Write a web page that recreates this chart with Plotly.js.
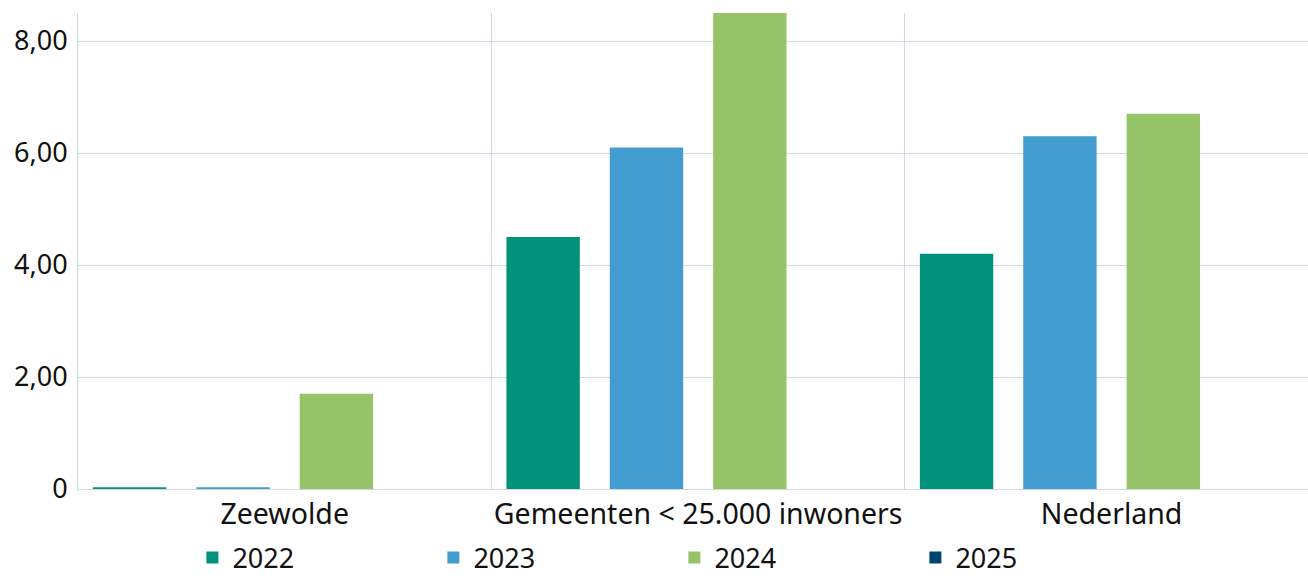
<!DOCTYPE html>
<html>
<head>
<meta charset="utf-8">
<script src="https://cdn.plot.ly/plotly-3.0.1.min.js"></script>
<style>html,body{margin:0;padding:0;background:#fff;}#chart{width:1308px;height:578px;}</style>
</head>
<body>
<div id="chart"></div>
<script>
const categories = ["Zeewolde", "Gemeenten < 25.000 inwoners", "Nederland"];
const seriesNames = ["2022", "2023", "2024", "2025"];
const values2022 = [0.03, 4.5, 4.2];
const values2023 = [0.03, 6.1, 6.3];
const values2024 = [1.7, 8.5, 6.7];
const values2025 = [null, null, null];
const seriesColors = ["#00927a", "#439dd0", "#95c367", "#00446f"];
const yTickVals = [0, 2, 4, 6, 8];
const yTickText = ["0", "2,00", "4,00", "6,00", "8,00"];

const allValues = [values2022, values2023, values2024, values2025];
const traces = seriesNames.map((name, i) => ({
  type: "bar",
  name: name,
  x: categories,
  y: allValues[i],
  marker: { color: seriesColors[i] },
  hoverinfo: "none"
}));

const gridColor = "#cfd8e3";
const fontFamily = "'Noto Sans', 'Open Sans', sans-serif";
const fontSize = 27;

const layout = {
  width: 1308,
  height: 578,
  margin: { l: 78, r: 0, t: 13, b: 89, autoexpand: false },
  paper_bgcolor: "#ffffff",
  plot_bgcolor: "#ffffff",
  barmode: "group",
  bargap: 0,
  bargroupgap: 0.29,
  font: { family: fontFamily, size: fontSize, color: "#111111" },
  showlegend: true,
  legend: {
    orientation: "h",
    x: 0.093, xanchor: "left",
    y: -0.145, yanchor: "middle",
    entrywidth: 196,
    entrywidthmode: "pixels",
    font: { family: fontFamily, size: fontSize, color: "#111111" },
    itemclick: false
  },
  xaxis: {
    type: "category",
    range: [-0.5, 2.475],
    tickson: "boundaries",
    tickangle: 0,
    showgrid: true,
    gridcolor: gridColor,
    gridwidth: 1,
    ticks: "",
    showline: true,
    linecolor: gridColor,
    tickfont: { family: fontFamily, size: 28.5, color: "#111111" },
    fixedrange: true
  },
  yaxis: {
    range: [0, 8.5],
    tickvals: yTickVals,
    ticktext: yTickText,
    showgrid: true,
    gridcolor: gridColor,
    zeroline: false,
    showline: true,
    linecolor: gridColor,
    ticks: "",
    ticklabelstandoff: 4,
    tickfont: { family: fontFamily, size: fontSize, color: "#111111" },
    fixedrange: true
  }
};

Plotly.newPlot("chart", traces, layout, { displayModeBar: false, staticPlot: true });
</script>
</body>
</html>
